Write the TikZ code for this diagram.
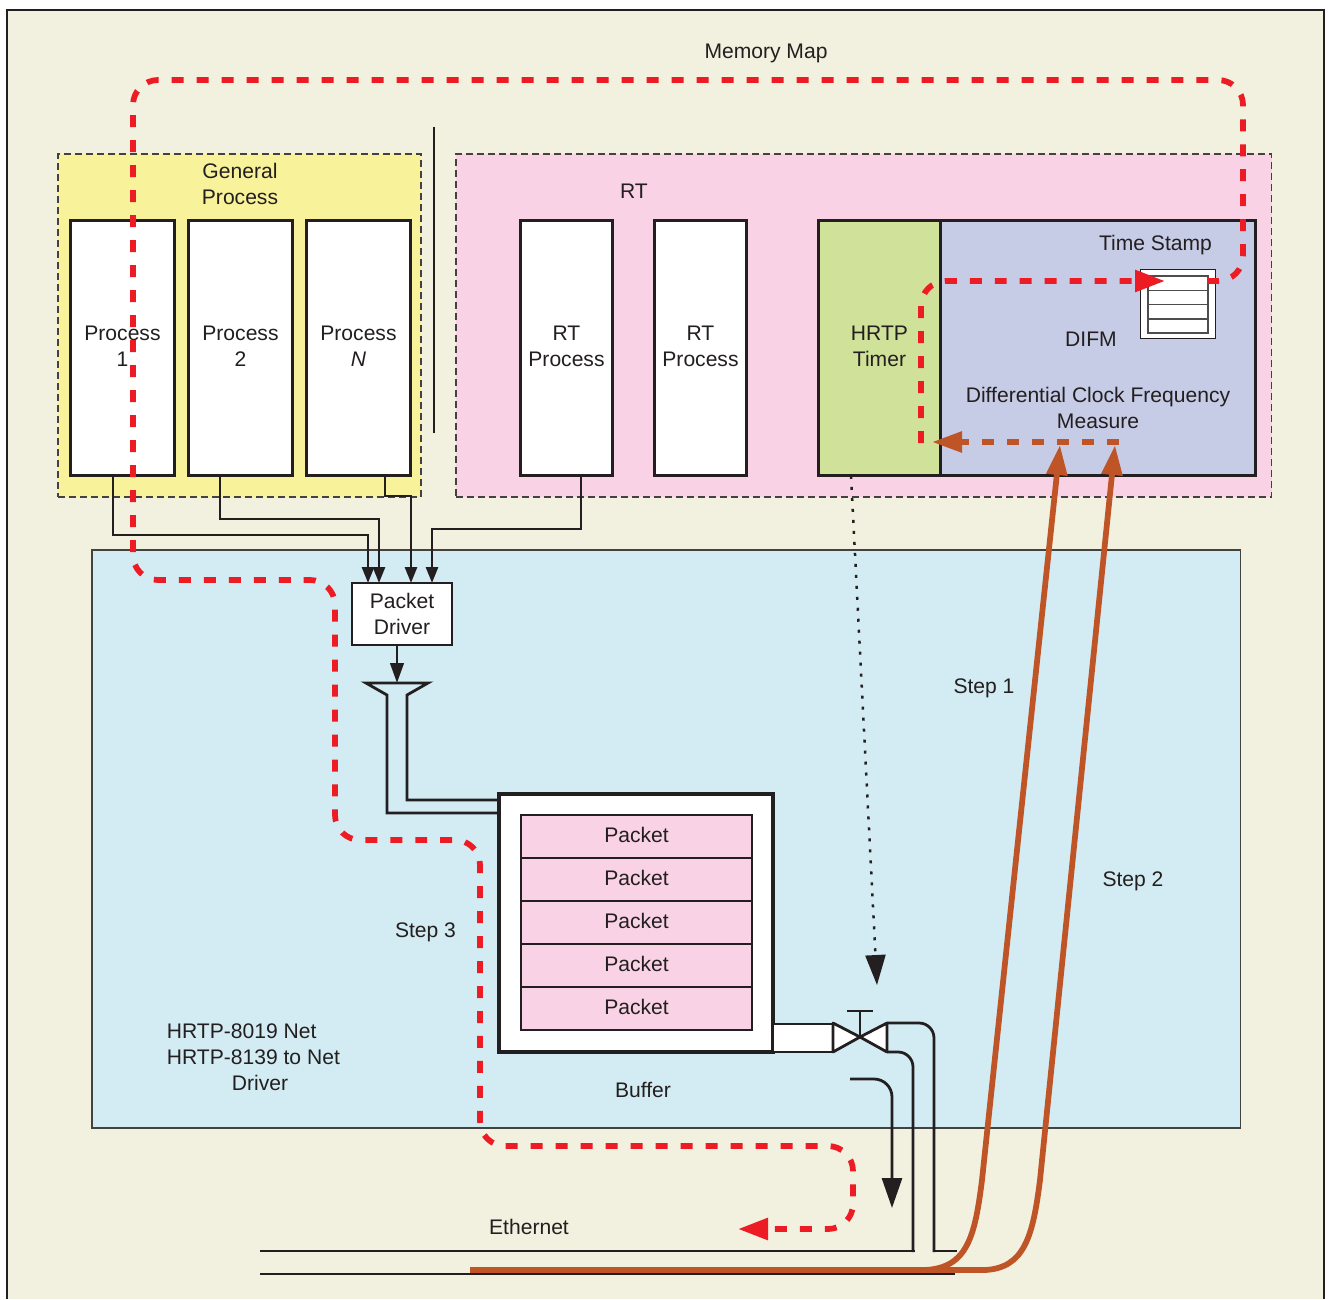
\documentclass[tikz,border=0pt]{standalone}
\usepackage{fontspec}
\setmainfont{Liberation Sans}
\usetikzlibrary{arrows.meta,positioning}
\definecolor{PageCream}{HTML}{F2F0DF}
\definecolor{ZoneYellow}{HTML}{F8F39B}
\definecolor{ZonePink}{HTML}{F9D3E5}
\definecolor{ZoneBlue}{HTML}{D3ECF3}
\definecolor{TimerGreen}{HTML}{D0E29A}
\definecolor{DifmLilac}{HTML}{C7CCE6}
\definecolor{PathRed}{HTML}{ED1C24}
\definecolor{PathBrown}{HTML}{BF5426}
\definecolor{InkDark}{HTML}{231F20}
\begin{document}
\begin{tikzpicture}[
    x=0.02cm,y=-0.02cm,
    every node/.style={text=InkDark,font=\fontsize{12}{14.8}\selectfont},
    label/.style={align=center,inner sep=0pt},
    zone/.style={draw=InkDark!85,line width=0.025cm,anchor=north west,inner sep=0pt,outer sep=0pt},
    zonedash/.style={dash pattern=on 0.14cm off 0.08cm},
    box/.style={draw=InkDark,line width=0.06cm,fill=white,anchor=north west,align=center,
    inner sep=0pt,outer sep=0pt,minimum height=5.12cm,text depth=0.08cm},
    packet/.style={draw=InkDark,line width=0.03cm,fill=ZonePink,inner sep=0pt,outer sep=0pt,
    minimum width=4.62cm,minimum height=0.86cm,align=center,text depth=0.08cm},
    row/.style={draw=InkDark!80,line width=0.03cm,fill=white,inner sep=0pt,outer sep=0pt,
    minimum width=1.2cm,minimum height=0.285cm},
    wire/.style={draw=InkDark,line width=0.056cm},
    feed/.style={wire,-{Triangle[length=0.32cm,width=0.24cm]}},
    bigarr/.style={wire,-{Triangle[length=0.6cm,width=0.4cm]}},
    redpath/.style={PathRed,line width=0.115cm,dash pattern=on 0.24cm off 0.26cm,rounded corners=0.5cm,
    -{Triangle[length=0.6cm,width=0.42cm]}},
    brownpath/.style={PathBrown,line width=0.115cm,-{Triangle[length=0.6cm,width=0.4cm]}}]
    \useasboundingbox (0,0) rectangle (1329,1299);
    % page and zones
    \fill[PageCream] (7,10) rectangle (1324,1299);
    \draw[InkDark,line width=0.03cm] (7,1299)--(7,10)--(1324,10)--(1324,1299);
    \node[zone,zonedash,fill=ZoneYellow,minimum width=7.26cm,minimum height=6.86cm] (general) at (58,154) {};
    \node[zone,zonedash,fill=ZonePink,minimum width=16.32cm,minimum height=6.86cm] (rtzone) at (456,154) {};
    \node[zone,fill=ZoneBlue,minimum width=22.98cm,minimum height=11.56cm] (netzone) at (92,550) {};
    \draw[wire] (434,127)--(434,433);
    % processes
    \node[box,minimum width=2.1cm] (proc1) at (70,220) {Process\\1};
    \node[box,minimum width=2.1cm] (proc2) at (188,220) {Process\\2};
    \node[box,minimum width=2.1cm] (procN) at (306,220) {Process\\\textit{N}};
    \node[box,minimum width=1.86cm] (rtproc1) at (520,220) {RT\\Process};
    \node[box,minimum width=1.86cm] (rtproc2) at (654,220) {RT\\Process};
    \node[box,fill=TimerGreen,minimum width=2.46cm] (timer) at (818,220) {HRTP\\Timer};
    \node[box,fill=DifmLilac,minimum width=6.3cm,right=0pt of timer.north east,anchor=north west] (difm) {};
    % time stamp
    \node[draw=InkDark,line width=0.02cm,fill=white,anchor=north west,inner sep=0pt,outer sep=0pt,
    minimum width=1.52cm,minimum height=1.4cm] (stamp) at (1140,269) {};
    \node[row,anchor=north west] (row1) at (1148,276) {};
    \node[row,below=0pt of row1] (row2) {};
    \node[row,below=0pt of row2] (row3) {};
    \node[row,below=0pt of row3] (row4) {};
    % labels
    \node[label] (memlabel) at (766,53) {Memory Map};
    \node[label] (genlabel) at (240,184) {General\\Process};
    \node[label] (rtlabel) at (634,191) {RT};
    \node[label] (stamplabel) at (1155.5,245) {Time Stamp};
    \node[label] (difmlabel) at (1091,339) {DIFM};
    \node[label] (dcfmlabel) at (1098,408) {Differential Clock Frequency\\Measure};
    \node[label] (step1) at (984,688) {Step 1};
    \node[label] (step2) at (1133,881) {Step 2};
    \node[label] (step3) at (425.5,932) {Step 3};
    \node[label,align=left,anchor=west] (netlabel) at (166.5,1057) {HRTP-8019 Net\\HRTP-8139 to Net\\\hspace*{1.3cm}Driver};
    \node[label] (buflabel) at (643,1090) {Buffer};
    \node[label] (ethlabel) at (529,1227) {Ethernet};
    % driver and buffer
    \node[draw=InkDark,line width=0.04cm,fill=white,align=center,anchor=north west,inner sep=0pt,outer sep=0pt,
    minimum width=2cm,minimum height=1.24cm] (driver) at (352,583) {Packet\\Driver};
    \node[draw=InkDark,line width=0.07cm,fill=white,anchor=north west,inner sep=0pt,outer sep=0pt,
    minimum width=5.48cm,minimum height=5.16cm] (buffer) at (499,794) {};
    \node[packet,anchor=north west] (pkt1) at (521,815) {Packet};
    \node[packet,below=0pt of pkt1] (pkt2) {Packet};
    \node[packet,below=0pt of pkt2] (pkt3) {Packet};
    \node[packet,below=0pt of pkt3] (pkt4) {Packet};
    \node[packet,below=0pt of pkt4] (pkt5) {Packet};
    % wires into the driver
    \draw[feed] (proc1.south -| 113,0)--(113,535)--(368,535)--(368,583);
    \draw[feed] (proc2.south -| 220,0)--(220,519)--(379,519)--(379,583);
    \draw[feed] (procN.south -| 385,0)--(385,496)--(411,496)--(411,583);
    \draw[feed] (rtproc1.south -| 581,0)--(581,529)--(432,529)--(432,583);
    % funnel
    \coordinate (funnel) at (397,683);
    \draw[wire] (buffer.west |- 0,800)--(407,800)--(407,695)--(428,683)--(366,683)--(387,695)--(387,813)--(buffer.west |- 0,813);
    \draw[wire,-{Triangle[length=0.4cm,width=0.27cm]}] (driver.south -| funnel)--(funnel);
    % valve
    \node[draw=InkDark,line width=0.055cm,fill=white,anchor=north west,inner sep=0pt,outer sep=0pt,
    minimum width=1.2cm,minimum height=0.56cm] (pipe) at (773,1024) {};
    \coordinate (valve) at (860,1037);
    \coordinate (valveN) at (887,1023);
    \coordinate (valveS) at (887,1052);
    \draw[wire,fill=white,line join=round] (833,1023)--(valve)--(833,1052)--cycle;
    \draw[wire,fill=white,line join=round] (valveN)--(valve)--(valveS)--cycle;
    \draw[wire] (valve)--(860,1011);
    \draw[wire] (847,1011)--(873,1011);
    % ethernet
    \coordinate (ethA) at (260,1251);
    \coordinate (ethB) at (260,1274);
    \draw[wire] (ethB)--(955,1274);
    \draw[wire,rounded corners=0.3cm] (valveN)--(934,1023)--(934,1252);
    \draw[wire] (932.5,1251)--(957,1251);
    \draw[wire,rounded corners=0.3cm] (valveS)--(913,1052)--(913,1252);
    \draw[wire] (914.5,1251)--(ethA);
    \draw[bigarr,rounded corners=0.36cm] (850,1079)--(892,1079)--(892,1208);
    \draw[draw=InkDark,line width=0.05cm,dash pattern=on 0.06cm off 0.16cm,-{Triangle[length=0.6cm,width=0.4cm]}] (timer.south -| 851,0)--(877,985);
    % red and brown paths
    \draw[brownpath] (470,1270)--(925,1270) .. controls (968,1268) and (975,1235) .. (982,1180)--(1060,445);
    \draw[brownpath] (925,1270)--(985,1270) .. controls (1025,1268) and (1033,1235) .. (1040,1180)--(1115,445);
    \draw[brownpath,dash pattern=on 0.24cm off 0.26cm] (1119,442)--(932,442);
    \draw[redpath] (921,443)--(921,281)--(1165,281);
    \draw[redpath] (1207,281)--(1243,281)--(1243,80)--(133,80)--(133,580)--(335,580)--(335,840)--(480,840)--(480,1146)--(853,1146)--(853,1229)--(738,1229);
\end{tikzpicture}
\end{document}
